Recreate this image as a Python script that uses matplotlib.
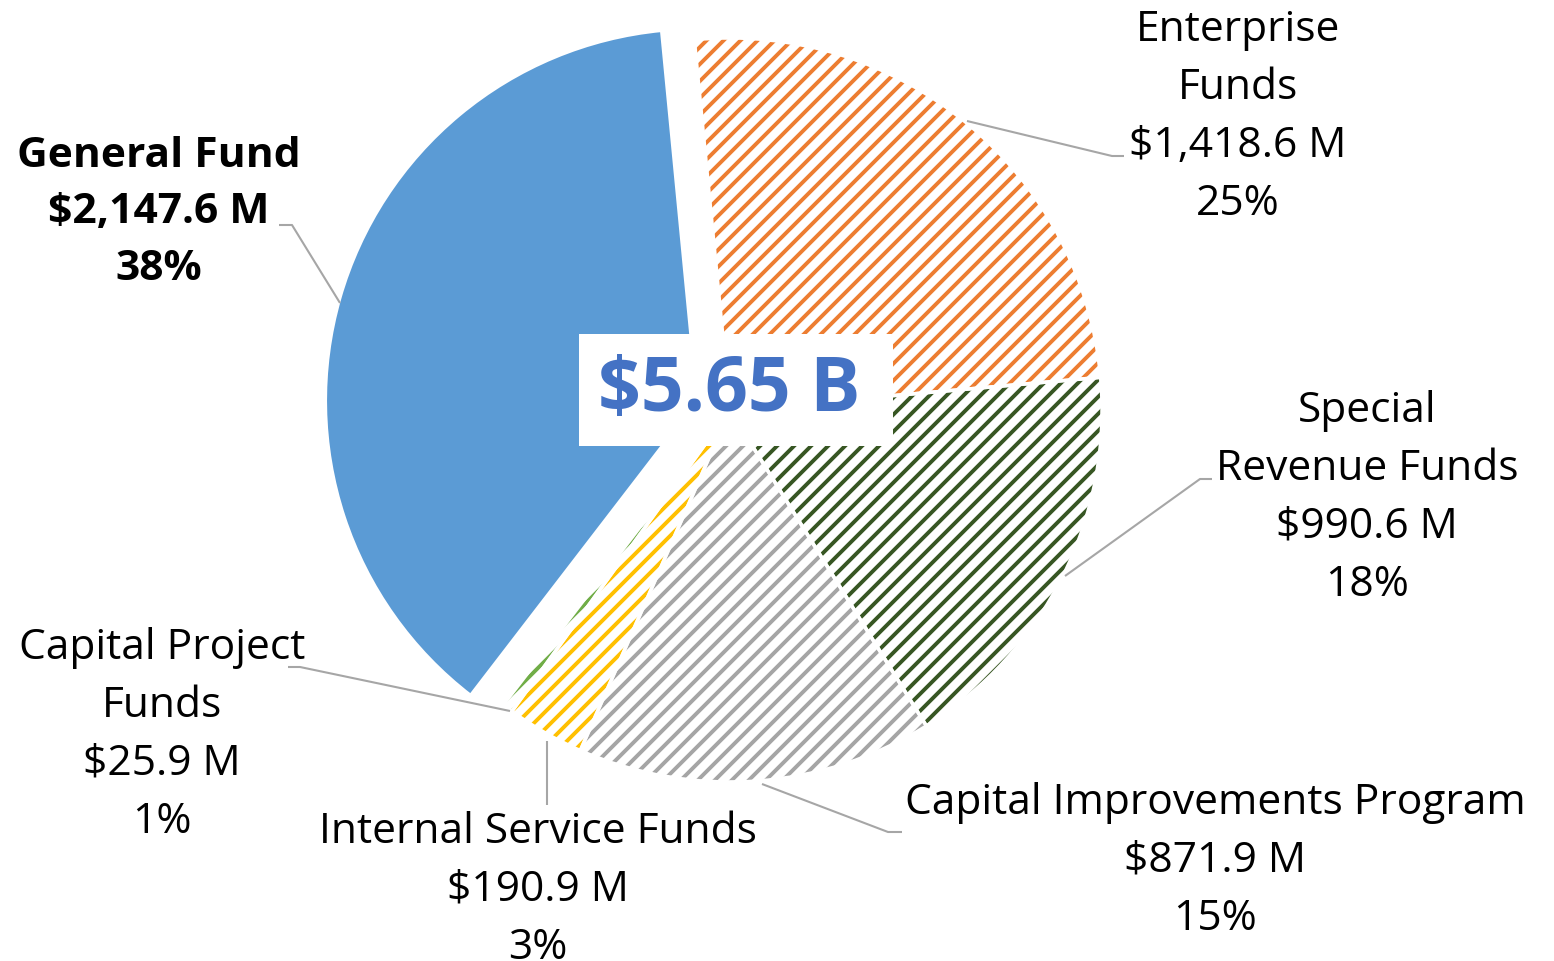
import matplotlib
matplotlib.use("Agg")
import matplotlib.pyplot as plt
import numpy as np
from matplotlib.patches import Wedge, Rectangle
from matplotlib.collections import LineCollection

# ---- data ----
categories = ["Enterprise Funds", "Special Revenue Funds", "Capital Improvements Program",
              "Internal Service Funds", "Capital Project Funds", "General Fund"]
values = [1418.6, 990.6, 871.9, 190.9, 25.9, 2147.6]
label_texts = [
    "Enterprise\nFunds\n$1,418.6 M\n25%",
    "Special\nRevenue Funds\n$990.6 M\n18%",
    "Capital Improvements Program\n$871.9 M\n15%",
    "Internal Service Funds\n$190.9 M\n3%",
    "Capital Project\nFunds\n$25.9 M\n1%",
    "General Fund\n$2,147.6 M\n38%",
]
total_label = "$5.65 B"

colors = ["#ED7D31", "#375623", "#A5A5A5", "#FFC000", "#70AD47", "#5B9BD5"]
hatched = [True, True, True, True, True, False]
explode_px = [0, 0, 0, 0, 0, 34]

plt.rcParams['font.family'] = ['Open Sans', 'DejaVu Sans']

W, H = 1554, 962
fig = plt.figure(figsize=(W / 100, H / 100), dpi=100)
ax = fig.add_axes([0, 0, 1, 1])

def P(x, y):
    return (x, H - y)

R = 372
cx, cy = P(730, 411)
wedges, _ = ax.pie(values, center=(cx, cy), radius=R, startangle=95.5,
                   counterclock=False, explode=explode_px,
                   colors=colors, frame=True,
                   wedgeprops=dict(linewidth=0))
ax.set_xlim(0, W)
ax.set_ylim(0, H)
ax.set_aspect('equal')
ax.axis('off')

# stripe pattern (45 degree lines) clipped to each hatched wedge
spacing = 17.0
offs = np.arange(-2 * R - 40, 2 * R + 40, spacing)
for w, c, h in zip(wedges, colors, hatched):
    if h:
        w.set_facecolor('white')
        segs = [[(cx + o - R - 40, cy - R - 40), (cx + o + R + 40, cy + R + 40)] for o in offs]
        lc_ = LineCollection(segs, colors=c, linewidths=2.8, zorder=w.get_zorder() + 0.2,
                             transform=ax.transData)
        ax.add_collection(lc_)
        lc_.set_clip_path(w)
    ov = Wedge(w.center, w.r, w.theta1, w.theta2, facecolor='none',
               edgecolor='white', linewidth=2.5, zorder=w.get_zorder() + 0.5)
    ax.add_patch(ov)

# leader lines
lc = "#A6A6A6"
leaders = [
    [(967, 122), (1112, 157), (1124, 157)],
    [(1065, 577), (1200, 480), (1212, 480)],
    [(762, 785), (888, 833), (902, 833)],
    [(547, 742), (547, 806)],
    [(510, 712), (300, 668), (288, 668)],
    [(340, 304), (292, 226), (279, 226)],
]
for pts in leaders:
    xs = [p[0] for p in pts]
    ys = [H - p[1] for p in pts]
    ax.plot(xs, ys, color=lc, lw=1.5, zorder=5, solid_capstyle='butt')

label_pos = [(1238, 117), (1367, 498), (1215, 861), (538, 890), (162, 735), (159, 213)]
for i, (txt, (x, y)) in enumerate(zip(label_texts, label_pos)):
    bold = categories[i] == "General Fund"
    ax.text(*P(x, y), txt, ha='center', va='center', fontsize=30.6,
            fontweight='bold' if bold else 'normal', color='black',
            linespacing=1.49, zorder=6)

# center total box
ax.add_patch(Rectangle(P(579, 447), 893 - 579, 447 - 335, facecolor='white',
                       edgecolor='none', zorder=7))
ax.text(*P(729, 391), total_label, ha='center', va='center', fontsize=54,
        fontweight='bold', color='#4472C4', zorder=8)

fig.savefig("out.png", dpi=100)
